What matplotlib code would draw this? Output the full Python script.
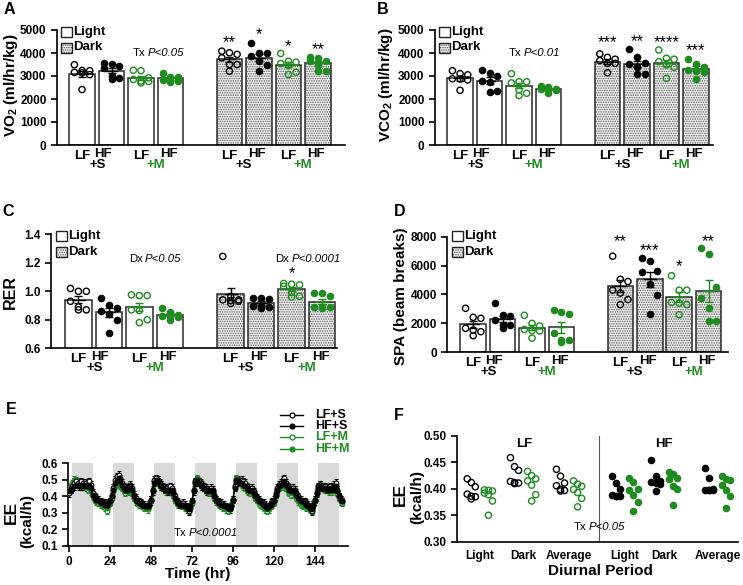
import numpy as np
import matplotlib
matplotlib.use('Agg')
import matplotlib.pyplot as plt
from matplotlib.patches import Rectangle

plt.rcParams['font.family'] = ['Liberation Sans', 'DejaVu Sans']
plt.rcParams['font.weight'] = 'bold'
plt.rcParams['axes.labelweight'] = 'bold'
plt.rcParams['mathtext.fontset'] = 'custom'
plt.rcParams['mathtext.rm'] = 'Liberation Sans:bold'
plt.rcParams['mathtext.bf'] = 'Liberation Sans:bold'
plt.rcParams['mathtext.it'] = 'Liberation Sans:italic'
plt.rcParams['hatch.linewidth'] = 0.7

GREEN = '#1f8c1f'

# ---------------- data ----------------
group_names = ['LF+S', 'HF+S', 'LF+M', 'HF+M']

vo2_light = [[3240, 3490, 3230, 3140, 3060, 3160, 2410],
             [3330, 3570, 3530, 3430, 2870, 2930, 3000],
             [3230, 3250, 2700, 2780, 2760, 2850, 2920],
             [3150, 2970, 2950, 2760, 2840, 2800, 2790]]
vo2_dark = [[4010, 4080, 3940, 3790, 3500, 3500, 3210],
            [4420, 4010, 3890, 3980, 3640, 3460, 3210],
            [3980, 3540, 3600, 3640, 3460, 3060, 3160],
            [3640, 3830, 3640, 3790, 3500, 3210, 3210]]
vo2_stars = ['**', '*', '*', '**']
vo2_star_y = [4460, 4810, 4290, 4160]

vco2_light = [[3230, 3050, 3100, 2870, 2830, 2880, 2380],
              [3280, 3110, 3000, 2800, 2750, 2330, 2300],
              [3100, 2750, 2700, 2750, 2400, 2250, 2150],
              [2540, 2420, 2400, 2420, 2550, 2250, 2430]]
vco2_dark = [[3960, 3670, 3810, 3730, 3550, 3550, 3140],
             [4160, 3810, 3580, 3520, 3400, 3100, 3100],
             [4130, 3770, 3730, 3480, 3380, 3620, 2900],
             [3520, 3740, 3400, 3230, 3250, 2870, 3190]]
vco2_stars = ['***', '**', '****', '***']
vco2_star_y = [4450, 4490, 4450, 4090]

rer_light = [[1.00, 1.02, 1.00, 0.87, 0.89, 0.87, 0.93],
             [0.955, 0.885, 0.905, 0.865, 0.84, 0.80, 0.71],
             [0.97, 0.975, 0.97, 0.865, 0.78, 0.80, 0.87],
             [0.88, 0.835, 0.83, 0.855, 0.80, 0.82, 0.83]]
rer_dark = [[1.245, 0.965, 0.915, 0.94, 0.94, 0.935, 0.93],
            [0.945, 0.955, 0.95, 0.90, 0.89, 0.895, 0.88],
            [1.055, 1.05, 1.035, 1.045, 0.99, 0.965, 0.96],
            [0.99, 0.985, 0.965, 0.89, 0.89, 0.885, 0.89]]
rer_stars = ['', '', '*', '']
rer_star_y = [0, 0, 1.122, 0]

spa_light = [[3045, 2353, 2422, 1149, 1543, 1426, 1661],
             [3391, 2512, 2581, 1661, 1889, 1889, 2235],
             [2560, 1820, 2000, 1500, 1480, 980, 1580],
             [2800, 2640, 2900, 1360, 730, 850, 830]]
spa_dark = [[6650, 4900, 5050, 4300, 4100, 3650, 3300],
            [6550, 6340, 5650, 5580, 4700, 3970, 2650],
            [5300, 4300, 4300, 3300, 3400, 2600, 3450],
            [7200, 6820, 3740, 3050, 2190, 2190, 4500]]
spa_stars = ['**', '***', '*', '**']
spa_star_y = [7650, 7030, 5920, 7650]

# Panel E: hourly energy expenditure (kcal/h), hours 0..160
ee_lfs = [0.42, 0.44, 0.46, 0.48, 0.49, 0.48, 0.47, 0.49, 0.48, 0.47, 0.48, 0.47, 0.49, 0.47, 0.42, 0.40, 0.39, 0.38, 0.37, 0.37, 0.36, 0.36, 0.35, 0.36,
          0.37, 0.40, 0.45, 0.50, 0.52, 0.53, 0.51, 0.48, 0.46, 0.45, 0.44, 0.46, 0.47, 0.45, 0.41, 0.39, 0.37, 0.37, 0.36, 0.35, 0.35, 0.34, 0.34, 0.35,
          0.38, 0.44, 0.50, 0.51, 0.50, 0.48, 0.47, 0.46, 0.45, 0.45, 0.44, 0.46, 0.45, 0.43, 0.40, 0.37, 0.36, 0.35, 0.35, 0.36, 0.35, 0.34, 0.31, 0.33,
          0.37, 0.44, 0.49, 0.50, 0.49, 0.48, 0.47, 0.46, 0.45, 0.44, 0.43, 0.45, 0.44, 0.41, 0.38, 0.37, 0.36, 0.36, 0.35, 0.35, 0.34, 0.33, 0.32, 0.34,
          0.38, 0.46, 0.50, 0.50, 0.49, 0.50, 0.49, 0.48, 0.46, 0.45, 0.44, 0.45, 0.43, 0.41, 0.39, 0.38, 0.37, 0.36, 0.36, 0.35, 0.33, 0.34, 0.36, 0.37,
          0.38, 0.42, 0.45, 0.47, 0.48, 0.50, 0.51, 0.48, 0.46, 0.45, 0.44, 0.45, 0.44, 0.42, 0.40, 0.38, 0.38, 0.37, 0.37, 0.36, 0.35, 0.33, 0.31, 0.35,
          0.38, 0.42, 0.46, 0.47, 0.46, 0.45, 0.46, 0.45, 0.44, 0.46, 0.45, 0.47, 0.48, 0.44, 0.40, 0.38, 0.37]
ee_hfs = [0.43, 0.44, 0.45, 0.46, 0.47, 0.47, 0.46, 0.46, 0.47, 0.46, 0.47, 0.46, 0.47, 0.45, 0.41, 0.39, 0.38, 0.38, 0.37, 0.36, 0.36, 0.35, 0.35, 0.36,
          0.37, 0.40, 0.44, 0.48, 0.50, 0.51, 0.49, 0.47, 0.45, 0.44, 0.44, 0.45, 0.46, 0.44, 0.40, 0.38, 0.37, 0.36, 0.36, 0.35, 0.34, 0.34, 0.34, 0.35,
          0.38, 0.43, 0.48, 0.50, 0.49, 0.47, 0.46, 0.45, 0.44, 0.44, 0.43, 0.44, 0.44, 0.42, 0.39, 0.37, 0.36, 0.35, 0.35, 0.35, 0.34, 0.33, 0.32, 0.34,
          0.37, 0.43, 0.48, 0.49, 0.48, 0.47, 0.46, 0.45, 0.44, 0.43, 0.43, 0.44, 0.43, 0.40, 0.38, 0.37, 0.36, 0.35, 0.35, 0.34, 0.34, 0.33, 0.33, 0.34,
          0.38, 0.45, 0.49, 0.49, 0.48, 0.48, 0.47, 0.46, 0.45, 0.44, 0.43, 0.44, 0.42, 0.40, 0.39, 0.37, 0.37, 0.36, 0.35, 0.34, 0.33, 0.34, 0.35, 0.36,
          0.37, 0.41, 0.44, 0.46, 0.47, 0.48, 0.49, 0.47, 0.45, 0.44, 0.43, 0.44, 0.43, 0.41, 0.39, 0.38, 0.37, 0.37, 0.36, 0.35, 0.34, 0.33, 0.32, 0.35,
          0.38, 0.42, 0.45, 0.46, 0.45, 0.45, 0.45, 0.44, 0.44, 0.45, 0.44, 0.46, 0.46, 0.43, 0.40, 0.38, 0.37]
ee_lfm = [0.44, 0.46, 0.48, 0.50, 0.49, 0.48, 0.47, 0.47, 0.46, 0.46, 0.45, 0.44, 0.45, 0.43, 0.40, 0.38, 0.37, 0.36, 0.36, 0.35, 0.34, 0.33, 0.31, 0.34,
          0.36, 0.39, 0.43, 0.47, 0.49, 0.49, 0.47, 0.45, 0.44, 0.42, 0.43, 0.44, 0.43, 0.42, 0.39, 0.37, 0.36, 0.35, 0.35, 0.34, 0.33, 0.33, 0.32, 0.34,
          0.37, 0.43, 0.49, 0.50, 0.48, 0.47, 0.46, 0.45, 0.44, 0.43, 0.43, 0.44, 0.43, 0.41, 0.38, 0.36, 0.35, 0.35, 0.34, 0.34, 0.33, 0.32, 0.31, 0.33,
          0.36, 0.43, 0.48, 0.50, 0.49, 0.47, 0.46, 0.45, 0.44, 0.43, 0.42, 0.43, 0.42, 0.39, 0.37, 0.36, 0.35, 0.34, 0.33, 0.33, 0.32, 0.31, 0.32, 0.34,
          0.38, 0.45, 0.50, 0.49, 0.48, 0.47, 0.46, 0.45, 0.44, 0.43, 0.42, 0.43, 0.41, 0.39, 0.38, 0.36, 0.35, 0.34, 0.33, 0.32, 0.31, 0.32, 0.34, 0.35,
          0.36, 0.40, 0.43, 0.45, 0.46, 0.47, 0.46, 0.45, 0.43, 0.42, 0.41, 0.43, 0.41, 0.39, 0.37, 0.36, 0.35, 0.34, 0.34, 0.33, 0.33, 0.32, 0.31, 0.34,
          0.37, 0.42, 0.46, 0.47, 0.46, 0.45, 0.44, 0.44, 0.43, 0.44, 0.43, 0.45, 0.45, 0.42, 0.39, 0.37, 0.36]
ee_hfm = [0.43, 0.45, 0.47, 0.49, 0.50, 0.49, 0.48, 0.47, 0.47, 0.46, 0.46, 0.45, 0.46, 0.44, 0.40, 0.38, 0.37, 0.37, 0.36, 0.36, 0.35, 0.34, 0.33, 0.35,
          0.37, 0.40, 0.43, 0.46, 0.48, 0.48, 0.46, 0.45, 0.44, 0.43, 0.43, 0.44, 0.44, 0.42, 0.39, 0.38, 0.37, 0.36, 0.36, 0.35, 0.34, 0.34, 0.33, 0.35,
          0.38, 0.44, 0.49, 0.51, 0.49, 0.48, 0.46, 0.45, 0.45, 0.44, 0.43, 0.44, 0.43, 0.41, 0.38, 0.37, 0.36, 0.35, 0.35, 0.34, 0.34, 0.33, 0.32, 0.34,
          0.37, 0.44, 0.49, 0.51, 0.49, 0.48, 0.46, 0.45, 0.44, 0.43, 0.43, 0.44, 0.42, 0.40, 0.38, 0.37, 0.36, 0.35, 0.34, 0.34, 0.33, 0.32, 0.33, 0.35,
          0.38, 0.46, 0.51, 0.50, 0.49, 0.48, 0.47, 0.46, 0.44, 0.43, 0.43, 0.44, 0.42, 0.40, 0.38, 0.37, 0.36, 0.35, 0.34, 0.33, 0.32, 0.33, 0.35, 0.36,
          0.37, 0.41, 0.44, 0.46, 0.47, 0.48, 0.47, 0.45, 0.44, 0.43, 0.42, 0.43, 0.42, 0.40, 0.38, 0.37, 0.36, 0.35, 0.34, 0.34, 0.33, 0.32, 0.32, 0.35,
          0.38, 0.43, 0.46, 0.47, 0.46, 0.46, 0.45, 0.45, 0.44, 0.45, 0.44, 0.46, 0.46, 0.43, 0.40, 0.38, 0.37]
ee_sem = [0.022, 0.02, 0.02, 0.018]
dark_starts = [2, 26, 50, 74, 98, 122, 146]
dark_len = 12

# Panel F
f_categories = ['Light', 'Dark', 'Average', 'Light', 'Dark', 'Average']
f_sal = [[0.419, 0.412, 0.404, 0.390, 0.386, 0.385, 0.381],
         [0.459, 0.442, 0.435, 0.414, 0.412, 0.411, 0.410],
         [0.437, 0.424, 0.411, 0.406, 0.399, 0.397, 0.396],
         [0.425, 0.411, 0.399, 0.388, 0.387, 0.387, 0.386],
         [0.455, 0.425, 0.415, 0.413, 0.411, 0.410, 0.395],
         [0.440, 0.420, 0.399, 0.398, 0.398, 0.397, 0.397]]
f_met = [[0.398, 0.397, 0.396, 0.392, 0.389, 0.377, 0.350],
         [0.433, 0.425, 0.419, 0.415, 0.407, 0.389, 0.377],
         [0.415, 0.409, 0.405, 0.399, 0.393, 0.382, 0.366],
         [0.421, 0.413, 0.399, 0.398, 0.389, 0.376, 0.359],
         [0.432, 0.428, 0.421, 0.419, 0.406, 0.399, 0.369],
         [0.425, 0.419, 0.416, 0.408, 0.398, 0.387, 0.364]]

# ---------------- figure ----------------
W, H = 743, 585
fig = plt.figure(figsize=(W / 100, H / 100), dpi=100)


def px_axes(l, t, r, b):
    return fig.add_axes([l / W, 1 - b / H, (r - l) / W, (b - t) / H])


def style_axes(ax, size=8.5):
    for s in ['top', 'right']:
        ax.spines[s].set_visible(False)
    for s in ['left', 'bottom']:
        ax.spines[s].set_linewidth(1.2)
    ax.tick_params(axis='both', width=1.2, length=4, labelsize=size)


COLS = ['k', 'k', GREEN, GREEN]
FILLED = [False, True, False, True]
OFFS = np.array([-0.26, 0.0, 0.26, -0.26, 0.0, 0.26, 0.0])
HATCH = '.......'


def bar_panel(ax, light, dark, ylim, yticks, ylabels, xlim, stars, star_y):
    pos = [0, 1, 2, 3, 5, 6, 7, 8]
    data = light + dark
    for i, (p, vals) in enumerate(zip(pos, data)):
        vals = np.array(vals, dtype=float)
        m = vals.mean()
        s = vals.std(ddof=1) / np.sqrt(len(vals))
        c = COLS[i % 4]
        if i >= 4:
            ax.bar(p, m, width=0.87, color='#efefef', edgecolor='#5a5a5a',
                   hatch=HATCH, lw=0, zorder=1)
            ax.bar(p, m, width=0.87, facecolor='none', edgecolor='#2a2a2a',
                   lw=1.1, zorder=2)
        else:
            ax.bar(p, m, width=0.87, facecolor='white', edgecolor='#2a2a2a',
                   lw=1.1, zorder=2)
        order = np.argsort(-vals)
        xs = np.empty(len(vals))
        xs[order] = p + OFFS[:len(vals)]
        ax.scatter(xs, vals, s=20, facecolors=c if FILLED[i % 4] else 'none',
                   edgecolors=c, linewidths=1.0, zorder=3, clip_on=False)
        ax.errorbar(p, m, yerr=s, fmt='none', ecolor=c, elinewidth=1.0,
                    capsize=3, capthick=1.0, zorder=4)
        ax.plot([p - 0.2, p + 0.2], [m, m], color=c, lw=1.0, zorder=4)
    for j in range(4):
        if stars[j]:
            ax.text(pos[4 + j], star_y[j], stars[j], ha='center', va='center',
                    fontsize=12, fontweight='normal')
    ax.set_xlim(*xlim)
    ax.set_ylim(*ylim)
    ax.set_yticks(yticks)
    ax.set_yticklabels(ylabels)
    ax.set_xticks([])
    style_axes(ax)
    for x in [0, 2, 5, 7]:
        ax.annotate('LF', xy=(x, 0), xycoords=('data', 'axes fraction'),
                    xytext=(0, -11), textcoords='offset pixels',
                    ha='center', va='center', fontsize=9.5)
    for x in [0.72, 2.95, 5.93, 7.95]:
        ax.annotate('HF', xy=(x, 0), xycoords=('data', 'axes fraction'),
                    xytext=(0, -9), textcoords='offset pixels',
                    ha='center', va='center', fontsize=9.5)
    for x in [0.52, 5.5]:
        ax.annotate('+S', xy=(x, 0), xycoords=('data', 'axes fraction'),
                    xytext=(0, -20), textcoords='offset pixels',
                    ha='center', va='center', fontsize=9.5)
    for x in [2.5, 7.5]:
        ax.annotate('+M', xy=(x, 0), xycoords=('data', 'axes fraction'),
                    xytext=(0, -20), textcoords='offset pixels',
                    ha='center', va='center', fontsize=9.5, color=GREEN)


axA = px_axes(57, 30, 345, 145)
bar_panel(axA, vo2_light, vo2_dark, (0, 5000), range(0, 5001, 1000),
          [str(v) for v in range(0, 5001, 1000)], (-0.85, 8.92), vo2_stars, vo2_star_y)
axB = px_axes(435, 30, 713, 145)
bar_panel(axB, vco2_light, vco2_dark, (0, 5000), range(0, 5001, 1000),
          [str(v) for v in range(0, 5001, 1000)], (-0.85, 8.58), vco2_stars, vco2_star_y)
axC = px_axes(51, 234.3, 337, 348.3)
bar_panel(axC, rer_light, rer_dark, (0.6, 1.4), [0.6, 0.8, 1.0, 1.2, 1.4],
          ['0.6', '0.8', '1.0', '1.2', '1.4'], (-0.9, 8.49), rer_stars, rer_star_y)
axD = px_axes(447.3, 236.7, 728, 352.3)
bar_panel(axD, spa_light, spa_dark, (0, 8000), range(0, 8001, 2000),
          [str(v) for v in range(0, 8001, 2000)], (-0.88, 8.66), spa_stars, spa_star_y)

# ---------------- Panel E ----------------
axE = px_axes(68.3, 463.3, 348, 545.7)
for s in dark_starts:
    axE.axvspan(s, s + dark_len, color='#d9d9d9', lw=0, zorder=0)
hours = np.arange(len(ee_lfs))
series = [(ee_lfm, GREEN, False, ee_sem[2]), (ee_hfm, GREEN, True, ee_sem[3]),
          (ee_lfs, 'k', False, ee_sem[0]), (ee_hfs, 'k', True, ee_sem[1])]
for vals, c, filled, sem in series:
    axE.errorbar(hours, vals, yerr=sem, color=c, lw=0.9, marker='o', ms=3.4,
                 mfc=c if filled else 'white', mec=c, mew=0.8,
                 elinewidth=0.7, capsize=1.5, capthick=0.7, zorder=3)
axE.set_xlim(-0.4, 163.3)
axE.set_ylim(0.1, 0.6)
axE.set_xticks(range(0, 145, 24))
axE.set_yticks([0.1, 0.2, 0.3, 0.4, 0.5, 0.6])
axE.set_yticklabels(['0.1', '0.2', '0.3', '0.4', '0.5', '0.6'])
style_axes(axE, 8.5)

# ---------------- Panel F ----------------
axF = px_axes(457.3, 436, 738, 541.7)
cat_pos = [0, 0.96, 1.98, 3.22, 4.09, 5.28]
FOFF = np.array([-0.09, 0.0, 0.09, -0.09, 0.0, 0.09, 0.0])
for k, cp in enumerate(cat_pos):
    for vals, dx, c, filled in [(f_sal[k], -0.19, 'k', k >= 3),
                                (f_met[k], 0.19, GREEN, k >= 3)]:
        vals = np.array(vals)
        order = np.argsort(-vals)
        xs = np.empty(len(vals))
        xs[order] = cp + dx + FOFF[:len(vals)]
        axF.scatter(xs, vals, s=20, facecolors=c if filled else 'none',
                    edgecolors=c, linewidths=1.0, zorder=3)
axF.plot([2.65, 2.65], [0.30, 0.50], color='#555555', lw=0.8, zorder=1)
axF.set_xlim(-0.5, 5.73)
axF.set_ylim(0.30, 0.50)
axF.set_yticks([0.30, 0.35, 0.40, 0.45, 0.50])
axF.set_yticklabels(['0.30', '0.35', '0.40', '0.45', '0.50'])
axF.set_xticks(cat_pos)
axF.set_xticklabels(f_categories, fontsize=9.5)
style_axes(axF, 8.5)
axF.tick_params(axis='x', length=0, pad=6)
axF.text(0.98, 0.485, 'LF', ha='center', va='center', fontsize=9.5)
axF.text(4.09, 0.485, 'HF', ha='center', va='center', fontsize=9.5)

# ---------------- overlay: letters, labels, legends ----------------
ov = fig.add_axes([0, 0, 1, 1], zorder=10)
ov.set_xlim(0, W)
ov.set_ylim(H, 0)
ov.axis('off')
ov.patch.set_alpha(0)

for letter, x, y in [('A', 9, 10), ('B', 383, 10), ('C', 8, 212), ('D', 400, 212),
                     ('E', 11, 410), ('F', 399, 416)]:
    ov.text(x, y, letter, ha='center', va='center', fontsize=11.5)

ov.text(11, 85, r'VO$_\mathbf{2}$ (ml/hr/kg)', rotation=90, ha='center', va='center', fontsize=11)
ov.text(386, 85, r'VCO$_\mathbf{2}$ (ml/hr/kg)', rotation=90, ha='center', va='center', fontsize=11)
ov.text(10, 292, 'RER', rotation=90, ha='center', va='center', fontsize=11.5)
ov.text(401.5, 296, 'SPA (beam breaks)', rotation=90, ha='center', va='center', fontsize=11)
ov.text(11, 513, 'EE', rotation=90, ha='center', va='center', fontsize=12.5)
ov.text(27.5, 521, '(kcal/h)', rotation=90, ha='center', va='center', fontsize=11)
ov.text(400, 494, 'EE', rotation=90, ha='center', va='center', fontsize=12.5)
ov.text(417, 497, '(kcal/h)', rotation=90, ha='center', va='center', fontsize=11)
ov.text(198, 574, 'Time (hr)', ha='center', va='center', fontsize=11)
ov.text(600, 571, 'Diurnal Period', ha='center', va='center', fontsize=11)


def legend_boxes(x, y1, y2):
    ov.add_patch(Rectangle((x, y1 - 5), 11, 10, facecolor='white', edgecolor='#222', lw=1.0))
    ov.add_patch(Rectangle((x, y2 - 5), 11, 10, facecolor='#efefef', edgecolor='#5a5a5a',
                           hatch=HATCH, lw=0))
    ov.add_patch(Rectangle((x, y2 - 5), 11, 10, facecolor='none', edgecolor='#222', lw=1.0))
    ov.text(x + 12.5, y1, 'Light', ha='left', va='center', fontsize=9.5)
    ov.text(x + 12.5, y2, 'Dark', ha='left', va='center', fontsize=9.5)


legend_boxes(61, 32, 47.5)
legend_boxes(439, 32, 47.5)
legend_boxes(56, 236.3, 252)
legend_boxes(452, 236.3, 251.7)


def ptext(xb, y, pre, it, size=8.2):
    ov.text(xb, y, pre, ha='right', va='center', fontsize=size, fontweight='normal')
    ov.text(xb + 2.5, y, it, ha='left', va='center', fontsize=size,
            fontweight='normal', style='italic')


ptext(145, 53.3, 'Tx', 'P<0.05')
ptext(521.5, 53.3, 'Tx', 'P<0.01')
ptext(142.5, 259.3, 'Dx', 'P<0.05')
ptext(289.5, 259.3, 'Dx', 'P<0.0001')
ptext(186.5, 532.7, 'Tx', 'P<0.0001')
ptext(586.5, 527.3, 'Tx', 'P<0.05')

# Panel E legend
for name, c, filled, y in [('LF+S', 'k', False, 415), ('HF+S', 'k', True, 426),
                           ('LF+M', GREEN, False, 437.3), ('HF+M', GREEN, True, 449.3)]:
    ov.plot([280, 303.3], [y, y], color=c, lw=1.0)
    ov.plot([291.7], [y], marker='o', ms=3.5, color=c, mfc=c if filled else 'white', mec=c, mew=0.9)
    ov.text(315, y, name, ha='left', va='center', fontsize=9, color=c)

fig.savefig('out.png', dpi=100)
